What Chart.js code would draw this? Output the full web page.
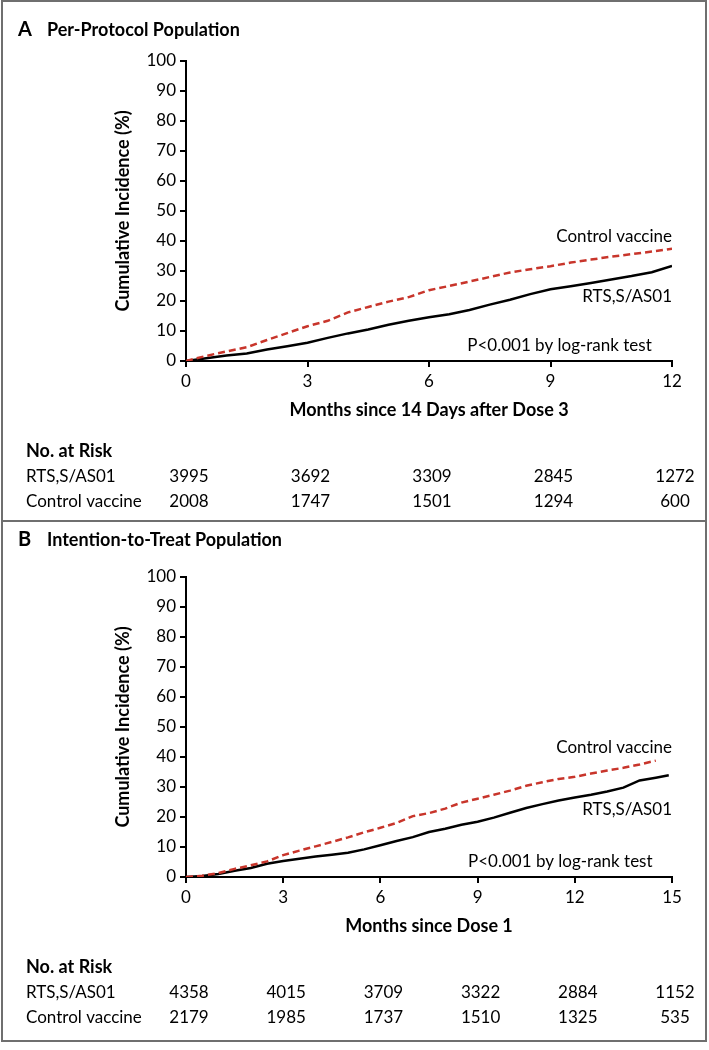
<!DOCTYPE html>
<html>
<head>
<meta charset="utf-8">
<script src="https://cdn.jsdelivr.net/npm/chart.js@4.4.1/dist/chart.umd.min.js"></script>
<style>
  body { margin: 0; background: #fff; }
  #page { position: relative; width: 709px; height: 1050px; overflow: hidden; }
  canvas { position: absolute; left: 0; }
  .frame { position: absolute; box-sizing: border-box; border: 2px solid #6f6f6f; left: 1px; width: 706px; height: 522px; }
</style>
</head>
<body>
<div id="page">
  <canvas id="chartA" width="709" height="520" style="top:0px"></canvas>
  <canvas id="chartB" width="709" height="520" style="top:516px"></canvas>
  <div class="frame" style="top:0px"></div>
  <div class="frame" style="top:520px"></div>
</div>
<script>
// Panel A: per-protocol population (months since 14 days after dose 3)
const ppMonths = [0, 0.5, 1, 1.5, 2, 2.5, 3, 3.5, 4, 4.5, 5, 5.5, 6, 6.5, 7, 7.5, 8, 8.5, 9, 9.5, 10, 10.5, 11, 11.5, 12];
const ppControl = [0, 1.7, 3.2, 4.6, 7.0, 9.3, 11.6, 13.4, 16.2, 18.0, 19.8, 21.3, 23.6, 25.0, 26.5, 28.0, 29.5, 30.6, 31.6, 32.8, 33.8, 34.8, 35.6, 36.5, 37.4];
const ppRts = [0, 0.9, 1.8, 2.5, 3.8, 4.9, 6.1, 7.7, 9.2, 10.5, 12.1, 13.4, 14.6, 15.6, 17.0, 18.8, 20.4, 22.3, 23.9, 24.9, 26.0, 27.2, 28.3, 29.6, 31.7];
const ppRiskMonths = [0, 3, 6, 9, 12];
const ppRiskRts = [3995, 3692, 3309, 2845, 1272];
const ppRiskControl = [2008, 1747, 1501, 1294, 600];

// Panel B: intention-to-treat population (months since dose 1)
const ittMonthsControl = [0, 0.5, 1, 1.5, 2, 2.5, 3, 3.5, 4, 4.5, 5, 5.5, 6, 6.5, 7, 7.5, 8, 8.5, 9, 9.5, 10, 10.5, 11, 11.5, 12, 12.5, 13, 13.5, 14, 14.5];
const ittControl = [0, 0.4, 1.3, 2.7, 3.9, 5.2, 7.3, 8.8, 10.2, 11.7, 13.2, 14.9, 16.4, 18.0, 20.3, 21.3, 22.8, 24.8, 26.1, 27.4, 28.8, 30.4, 31.6, 32.7, 33.4, 34.5, 35.5, 36.4, 37.5, 38.8];
const ittMonthsRts = [0, 0.5, 1, 1.5, 2, 2.5, 3, 3.5, 4, 4.5, 5, 5.5, 6, 6.5, 7, 7.5, 8, 8.5, 9, 9.5, 10, 10.5, 11, 11.5, 12, 12.5, 13, 13.5, 14, 14.5, 14.9];
const ittRts = [0, 0.3, 1.0, 2.1, 3.0, 4.4, 5.3, 6.1, 6.8, 7.4, 8.1, 9.2, 10.6, 12.0, 13.3, 15.0, 16.1, 17.4, 18.4, 19.8, 21.4, 23.0, 24.3, 25.5, 26.5, 27.4, 28.5, 29.8, 32.2, 33.1, 33.9];
const ittRiskMonths = [0, 3, 6, 9, 12, 15];
const ittRiskRts = [4358, 4015, 3709, 3322, 2884, 1152];
const ittRiskControl = [2179, 1985, 1737, 1510, 1325, 535];

const yTicks = [0, 10, 20, 30, 40, 50, 60, 70, 80, 90, 100];

const RED = '#c8352b';
const FONT = 'Lato';

function toPoints(xs, ys) {
    return xs.map((x, i) => ({ x: x, y: ys[i] }));
}

// draws titles, axis titles, curve labels and the risk table
const panelText = {
    id: 'panelText',
    afterDraw(chart, args, opts) {
        const ctx = chart.ctx;
        const xs = chart.scales.x;
        const ys = chart.scales.y;
        const area = chart.chartArea;
        ctx.save();
        ctx.fillStyle = '#000';
        ctx.textBaseline = 'middle';

        // panel heading
        ctx.textAlign = 'left';
        ctx.font = 'bold 20px ' + FONT;
        ctx.fillText(opts.letter, 18, opts.titleY);
        ctx.font = 'bold 18px ' + FONT;
        ctx.fillText(opts.title, 47, opts.titleY);

        // y axis title
        ctx.save();
        ctx.translate(123, (area.top + area.bottom) / 2);
        ctx.rotate(-Math.PI / 2);
        ctx.textAlign = 'center';
        ctx.fillText('Cumulative Incidence (%)', 0, 0);
        ctx.restore();

        // x axis title
        ctx.textAlign = 'center';
        ctx.fillText(opts.xTitle, (area.left + area.right) / 2, 410);

        // curve labels
        ctx.font = '17px ' + FONT;
        ctx.textAlign = 'right';
        opts.labels.forEach(l => {
            ctx.fillText(l.text, xs.getPixelForValue(l.x), ys.getPixelForValue(l.y));
        });

        // number at risk
        ctx.textAlign = 'left';
        ctx.font = 'bold 18px ' + FONT;
        ctx.fillText('No. at Risk', 26, 451);
        ctx.font = '17px ' + FONT;
        ctx.fillText('RTS,S/AS01', 26, 477);
        ctx.fillText('Control vaccine', 26, 502);
        ctx.textAlign = 'center';
        opts.riskMonths.forEach((m, i) => {
            const px = xs.getPixelForValue(m) + 3;
            ctx.fillText(String(opts.riskRts[i]), px, 477);
            ctx.fillText(String(opts.riskControl[i]), px, 502);
        });
        ctx.restore();
    }
};

function makeChart(id, cfg) {
    const ctx = document.getElementById(id).getContext('2d');
    return new Chart(ctx, {
        type: 'line',
        data: {
            datasets: [{
                label: 'Control vaccine',
                data: toPoints(cfg.ctlMonths, cfg.ctl),
                borderColor: RED,
                borderWidth: 2.5,
                borderDash: [7, 4],
                pointRadius: 0,
                tension: 0,
                fill: false
            }, {
                label: 'RTS,S/AS01',
                data: toPoints(cfg.rtsMonths, cfg.rts),
                borderColor: '#000',
                borderWidth: 2.5,
                pointRadius: 0,
                tension: 0,
                fill: false
            }]
        },
        options: {
            responsive: false,
            animation: false,
            events: [],
            layout: { padding: { top: 61, right: 37, left: 0, bottom: 0 } },
            plugins: {
                legend: { display: false },
                tooltip: { enabled: false },
                panelText: cfg.text
            },
            scales: {
                x: {
                    type: 'linear',
                    min: 0,
                    max: cfg.xMax,
                    afterFit: s => { s.height = 159; },
                    afterBuildTicks: s => { s.ticks = cfg.xTicks.map(v => ({ value: v })); },
                    ticks: { color: '#000', font: { family: FONT, size: 17 }, padding: 4, maxRotation: 0 },
                    grid: { drawOnChartArea: false, drawTicks: true, tickLength: 6, color: '#000', lineWidth: 2 },
                    border: { display: true, color: '#000', width: 2 }
                },
                y: {
                    min: 0,
                    max: 100,
                    afterFit: s => { s.width = 186; },
                    afterBuildTicks: s => { s.ticks = yTicks.map(v => ({ value: v })); },
                    ticks: { color: '#000', font: { family: FONT, size: 17 }, padding: 4 },
                    grid: { drawOnChartArea: false, drawTicks: true, tickLength: 6, color: '#000', lineWidth: 2 },
                    border: { display: true, color: '#000', width: 2 }
                }
            }
        },
        plugins: [panelText]
    });
}

makeChart('chartA', {
    ctlMonths: ppMonths, ctl: ppControl,
    rtsMonths: ppMonths, rts: ppRts,
    xMax: 12,
    xTicks: [0, 3, 6, 9, 12],
    text: {
        letter: 'A', title: 'Per-Protocol Population', titleY: 30,
        xTitle: 'Months since 14 Days after Dose 3',
        labels: [
            { text: 'Control vaccine', x: 12, y: 41.5 },
            { text: 'RTS,S/AS01', x: 12, y: 21.5 },
            { text: 'P<0.001 by log-rank test', x: 11.5, y: 5.2 }
        ],
        riskMonths: ppRiskMonths, riskRts: ppRiskRts, riskControl: ppRiskControl
    }
});

makeChart('chartB', {
    ctlMonths: ittMonthsControl, ctl: ittControl,
    rtsMonths: ittMonthsRts, rts: ittRts,
    xMax: 15,
    xTicks: [0, 3, 6, 9, 12, 15],
    text: {
        letter: 'B', title: 'Intention-to-Treat Population', titleY: 24,
        xTitle: 'Months since Dose 1',
        labels: [
            { text: 'Control vaccine', x: 15, y: 43 },
            { text: 'RTS,S/AS01', x: 15, y: 22.6 },
            { text: 'P<0.001 by log-rank test', x: 14.4, y: 5.2 }
        ],
        riskMonths: ittRiskMonths, riskRts: ittRiskRts, riskControl: ittRiskControl
    }
});
</script>
</body>
</html>
